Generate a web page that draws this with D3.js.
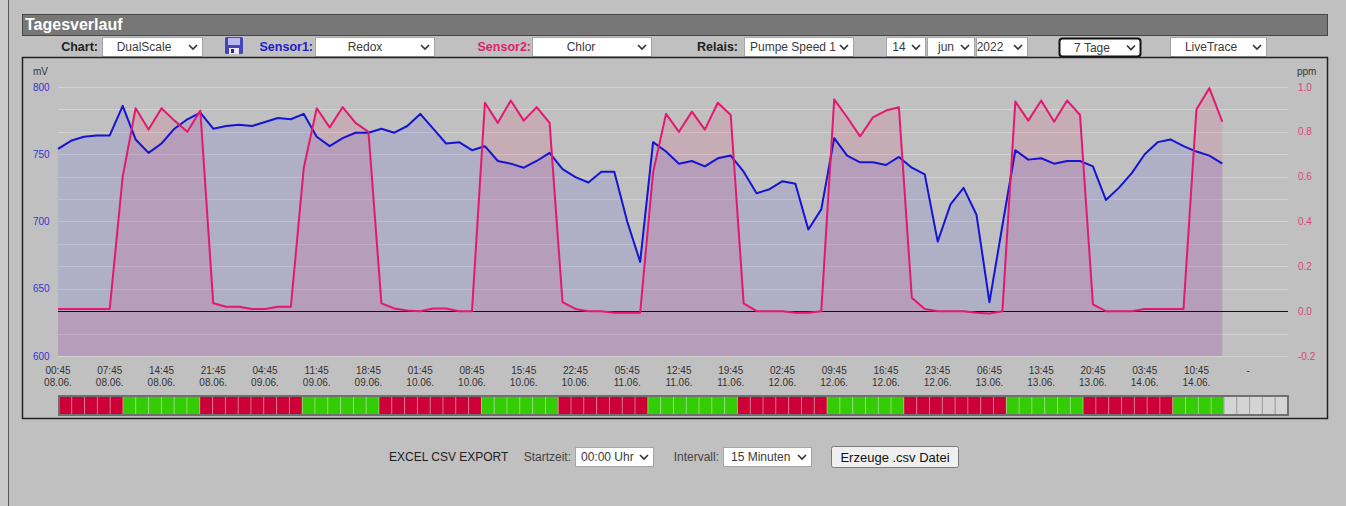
<!DOCTYPE html>
<html>
<head>
<meta charset="utf-8">
<title>Tagesverlauf</title>
<script src="https://cdnjs.cloudflare.com/ajax/libs/d3/7.8.5/d3.min.js"></script>
<style>
  html, body { margin: 0; padding: 0; background: #c0c0c0; }
  svg { display: block; font-family: "Liberation Sans", Arial, sans-serif; }
</style>
</head>
<body>
<svg id="page" width="1346" height="506"></svg>
<script>
// values, one point every 1h45 (96 slots = 7 days)
const redox = [
  754, 760, 763, 764, 764, 786, 761, 751, 758, 769, 776, 781, 769, 771, 772, 771,
  774, 777, 776, 780, 763, 756, 762, 766, 766, 769, 766, 771, 780, 769, 758, 759,
  753, 756, 745, 743, 740, 745, 751, 739, 733, 729, 737, 737, 700, 670, 759, 752,
  743, 745, 741, 747, 749, 737, 721, 724, 730, 728, 694, 709, 762, 749, 744, 744,
  742, 748, 740, 735, 685, 713, 725, 705, 640, 697, 753, 746, 747, 743, 745, 745,
  741, 716, 725, 736, 750, 759, 761, 756, 752, 749, 743
];
const chlor = [
  0.01, 0.01, 0.01, 0.01, 0.01, 0.60, 0.905, 0.81, 0.905, 0.85, 0.80, 0.895, 0.035, 0.02, 0.02, 0.01,
  0.01, 0.02, 0.02, 0.64, 0.905, 0.82, 0.91, 0.84, 0.80, 0.035, 0.012, 0.003, 0.0, 0.012, 0.012, 0.0,
  0.0, 0.93, 0.84, 0.94, 0.85, 0.91, 0.84, 0.04, 0.01, 0.0, 0.0, -0.007, -0.007, -0.007, 0.62, 0.88,
  0.80, 0.89, 0.81, 0.93, 0.875, 0.035, 0.0, 0.0, 0.0, -0.007, -0.007, 0.0, 0.945, 0.865, 0.78, 0.865,
  0.895, 0.91, 0.06, 0.01, 0.0, 0.0, 0.0, -0.007, -0.01, 0.0, 0.935, 0.85, 0.94, 0.845, 0.94, 0.875,
  0.03, 0.0, 0.0, 0.0, 0.01, 0.01, 0.01, 0.01, 0.90, 0.995, 0.845
];
// relay per slot: 1 = on (green), 0 = off (red), null = no data yet
const relay = [
  0, 0, 0, 0, 0, 1, 1, 1, 1, 1, 1, 0, 0, 0, 0, 0,
  0, 0, 0, 1, 1, 1, 1, 1, 1, 0, 0, 0, 0, 0, 0, 0,
  0, 1, 1, 1, 1, 1, 1, 0, 0, 0, 0, 0, 0, 0, 1, 1,
  1, 1, 1, 1, 1, 0, 0, 0, 0, 0, 0, 0, 1, 1, 1, 1,
  1, 1, 0, 0, 0, 0, 0, 0, 0, 0, 1, 1, 1, 1, 1, 1,
  0, 0, 0, 0, 0, 0, 0, 1, 1, 1, 1, null, null, null, null, null
];
const tickSlots = [0, 4, 8, 12, 16, 20, 24, 28, 32, 36, 40, 44, 48, 52, 56, 60, 64, 68, 72, 76, 80, 84, 88, 92];
const tickTimes = ["00:45", "07:45", "14:45", "21:45", "04:45", "11:45", "18:45", "01:45", "08:45", "15:45", "22:45", "05:45",
                   "12:45", "19:45", "02:45", "09:45", "16:45", "23:45", "06:45", "13:45", "20:45", "03:45", "10:45", "-"];
const tickDates = ["08.06.", "08.06.", "08.06.", "08.06.", "09.06.", "09.06.", "09.06.", "10.06.", "10.06.", "10.06.", "10.06.", "11.06.",
                   "11.06.", "11.06.", "12.06.", "12.06.", "12.06.", "12.06.", "13.06.", "13.06.", "13.06.", "14.06.", "14.06.", ""];
const mvTicks = [600, 650, 700, 750, 800];
const ppmTicks = [-0.2, 0.0, 0.2, 0.4, 0.6, 0.8, 1.0];
const ppmGrid = [-0.2, -0.1, 0.0, 0.1, 0.2, 0.3, 0.4, 0.5, 0.6, 0.7, 0.8, 0.9, 1.0];

const svg = d3.select("#page");

// left frame edge of the page
svg.append("rect").attr("x", 0).attr("y", 0).attr("width", 8).attr("height", 506).attr("fill", "#c9c9c9");
svg.append("line").attr("x1", 8.5).attr("x2", 8.5).attr("y1", 0).attr("y2", 506).attr("stroke", "#5a5a5a");

// title bar
svg.append("rect").attr("x", 22.5).attr("y", 14.5).attr("width", 1305).attr("height", 21)
  .attr("fill", "#777").attr("stroke", "#454545");
svg.append("text").attr("x", 25).attr("y", 30).attr("fill", "#fff")
  .attr("font-size", 16).attr("font-weight", "bold").text("Tagesverlauf");

// select boxes, drawn flat
function selectBox(x0, x1, y0, y1, label, tx, opts) {
  opts = opts || {};
  const g = svg.append("g");
  g.append("rect").attr("x", x0 + 0.5).attr("y", y0 + 0.5).attr("width", x1 - x0).attr("height", y1 - y0)
    .attr("rx", opts.focus ? 3 : 0)
    .attr("fill", "#fff").attr("stroke", opts.focus ? "#111" : "#a5a5a5").attr("stroke-width", opts.focus ? 2 : 1);
  g.append("text").attr("x", tx).attr("y", (y0 + y1) / 2 + 4.5)
    .attr("text-anchor", opts.left ? "start" : "middle")
    .attr("font-size", opts.size || 12).attr("fill", "#3a3a3a").text(label);
  const cx = x1 - 9, cy = (y0 + y1) / 2 + 0.5;
  g.append("path").attr("d", `M${cx - 4},${cy - 2}L${cx},${cy + 2}L${cx + 4},${cy - 2}`)
    .attr("fill", "none").attr("stroke", "#333").attr("stroke-width", 1.6);
}
function label(x, y, txt, color, anchor, size, weight) {
  svg.append("text").attr("x", x).attr("y", y).attr("fill", color)
    .attr("text-anchor", anchor || "start").attr("font-size", size || 13)
    .attr("font-weight", weight || "normal").text(txt);
}

// control row
label(98, 51, "Chart:", "#222", "end", 12.5, "bold");
selectBox(102, 202, 37, 56, "DualScale", 144);
label(313, 51, "Sensor1:", "#2020c8", "end", 12.5, "bold");
selectBox(315, 434, 37, 56, "Redox", 365);
label(531, 51, "Sensor2:", "#e0206e", "end", 12.5, "bold");
selectBox(532, 651, 37, 56, "Chlor", 581);
label(738, 51, "Relais:", "#222", "end", 12.5, "bold");
selectBox(744, 853, 37, 56, "Pumpe Speed 1", 793);
selectBox(886, 925, 37, 56, "14", 899);
selectBox(927, 974, 37, 56, "jun", 946);
selectBox(976, 1027, 37, 56, "2022", 990);
selectBox(1059, 1140, 38, 56, "7 Tage", 1092, { focus: true });
selectBox(1170, 1266, 37, 56, "LiveTrace", 1211);

// floppy (save) icon
const fl = svg.append("g").attr("transform", "translate(225,37)");
fl.append("rect").attr("width", 18).attr("height", 17).attr("rx", 1.5).attr("fill", "#4646b4");
fl.append("rect").attr("x", 3).attr("y", 1).attr("width", 12).attr("height", 7).attr("fill", "#b8b8ee");
fl.append("rect").attr("x", 4).attr("y", 11).attr("width", 10).attr("height", 6).attr("fill", "#e8e8f4");
fl.append("rect").attr("x", 6).attr("y", 12).attr("width", 3).attr("height", 4).attr("fill", "#30307a");

// chart frame
svg.append("rect").attr("x", 22.5).attr("y", 57.5).attr("width", 1305).attr("height", 361)
  .attr("fill", "#c0c0c0").attr("stroke", "#222").attr("stroke-width", 1.5);

// scales
const x = d3.scaleLinear().domain([0, 95]).range([58, 1287]);
const yMv = d3.scaleLinear().domain([600, 800]).range([356, 87]);
const yPpm = d3.scaleLinear().domain([-0.2, 1.0]).range([356, 87]);
const plotL = 58, plotR = 1288;

// grid
svg.append("g").selectAll("line").data(ppmGrid).join("line")
  .attr("x1", plotL).attr("x2", plotR)
  .attr("y1", d => Math.round(yPpm(d)) + 0.5).attr("y2", d => Math.round(yPpm(d)) + 0.5)
  .attr("stroke", "#d2d2d2").attr("stroke-width", 1);

// areas
const areaMv = d3.area().x((d, i) => x(i)).y0(yMv(600)).y1(d => yMv(d));
const areaPpm = d3.area().x((d, i) => x(i)).y0(yPpm(-0.2)).y1(d => yPpm(d));
svg.append("path").datum(redox).attr("d", areaMv).attr("fill", "rgba(70,70,235,0.14)");
svg.append("path").datum(chlor).attr("d", areaPpm).attr("fill", "rgba(235,40,110,0.13)");

// zero line of the ppm axis
svg.append("line").attr("x1", plotL).attr("x2", plotR)
  .attr("y1", Math.round(yPpm(0)) + 0.5).attr("y2", Math.round(yPpm(0)) + 0.5)
  .attr("stroke", "#111").attr("stroke-width", 1);

// lines
const lineMv = d3.line().x((d, i) => x(i)).y(d => yMv(d));
const linePpm = d3.line().x((d, i) => x(i)).y(d => yPpm(d));
svg.append("path").datum(redox).attr("d", lineMv).attr("fill", "none")
  .attr("stroke", "#1414d2").attr("stroke-width", 2).attr("stroke-linejoin", "round");
svg.append("path").datum(chlor).attr("d", linePpm).attr("fill", "none")
  .attr("stroke", "#e3196f").attr("stroke-width", 2).attr("stroke-linejoin", "round");

// left axis (mV)
label(33, 75, "mV", "#333", "start", 10);
svg.append("g").selectAll("text").data(mvTicks).join("text")
  .attr("x", 33).attr("y", d => yMv(d) + 3.5).attr("font-size", 10).attr("fill", "#3434d0")
  .text(d => d);

// right axis (ppm)
label(1297, 75, "ppm", "#333", "start", 10);
svg.append("g").selectAll("text").data(ppmTicks).join("text")
  .attr("x", 1298).attr("y", d => yPpm(d) + 3.5).attr("font-size", 10).attr("fill", "#e0407e")
  .text(d => d.toFixed(1));

// time axis, two lines per tick
const xt = svg.append("g").selectAll("g").data(tickSlots).join("g")
  .attr("transform", d => `translate(${x(d)},0)`);
xt.append("text").attr("y", 373.5).attr("text-anchor", "middle").attr("font-size", 10).attr("fill", "#333")
  .text((d, i) => tickTimes[i]);
xt.append("text").attr("y", 385.5).attr("text-anchor", "middle").attr("font-size", 10).attr("fill", "#333")
  .text((d, i) => tickDates[i]);

// relay strip
const band = d3.scaleBand().domain(d3.range(relay.length)).range([59, 1288]);
svg.append("g").selectAll("rect").data(relay).join("rect")
  .attr("x", (d, i) => band(i)).attr("y", 396).attr("width", band.bandwidth()).attr("height", 19)
  .attr("fill", d => d === null ? "#d4d4d4" : (d ? "#33cc05" : "#cc0036"))
  .attr("stroke", d => d === null ? "#a2a2a2" : "rgba(255,255,255,0.28)").attr("stroke-width", 1);
svg.append("rect").attr("x", 59).attr("y", 396).attr("width", 1229).attr("height", 19)
  .attr("fill", "none").attr("stroke", "#707070").attr("stroke-width", 2);

// csv export row
label(389, 461, "EXCEL CSV EXPORT", "#222", "start", 12);
label(571, 461, "Startzeit:", "#444", "end", 12);
selectBox(575, 653, 447, 466, "00:00 Uhr", 581, { left: true, size: 12 });
label(719, 461, "Intervall:", "#444", "end", 12);
selectBox(723, 811, 447, 466, "15 Minuten", 731, { left: true, size: 12 });
svg.append("rect").attr("x", 831.5).attr("y", 446.5).attr("width", 127).attr("height", 21).attr("rx", 2)
  .attr("fill", "#efefef").attr("stroke", "#7a7a7a");
label(895, 461.5, "Erzeuge .csv Datei", "#111", "middle", 13);
</script>
</body>
</html>
